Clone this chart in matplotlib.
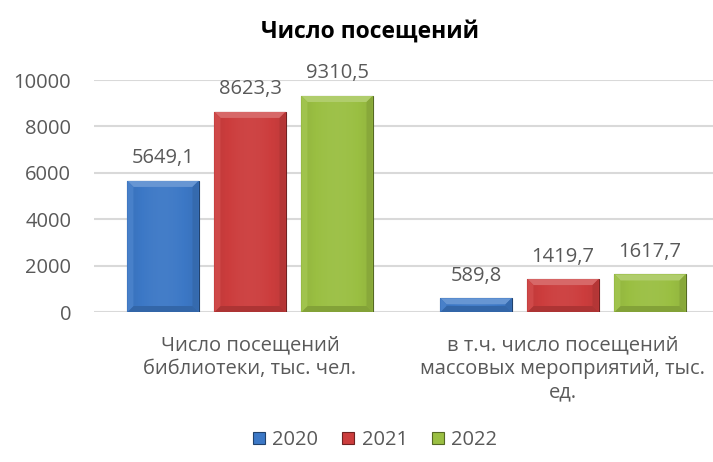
import matplotlib
matplotlib.use('Agg')
import matplotlib.pyplot as plt
import numpy as np
from matplotlib.colors import to_rgb
from matplotlib.patches import Polygon

categories = ['Число посещений\nбиблиотеки, тыс. чел.',
              'в т.ч. число посещений\nмассовых мероприятий, тыс.\nед.']
years = ['2020', '2021', '2022']
v2020 = [5649.1, 589.8]
v2021 = [8623.3, 1419.7]
v2022 = [9310.5, 1617.7]
colors = ['#3c78c6', '#cc3d3d', '#9abf42']

plt.rcParams['font.family'] = ['Open Sans', 'DejaVu Sans']
TXT = '#595959'
FS = 14.5


def shade(c, f):
    r = np.array(to_rgb(c))
    if f > 0:
        return tuple(r + (1 - r) * f)
    return tuple(r * (1 + f))


def fancy_bar(ax, rect, color):
    # soft gradient clipped to the bar + thin bevel
    x0, y0 = rect.get_x(), rect.get_y()
    w, h = rect.get_width(), rect.get_height()
    g = np.linspace(0, 1, 64)
    prof = 0.10 * np.sin(g * np.pi) - 0.06
    img = np.array([[shade(color, p) for p in prof]])
    im = ax.imshow(img, extent=(x0, x0 + w, y0, y0 + h), aspect='auto',
                   zorder=rect.get_zorder() + 0.1, interpolation='bilinear')
    im.set_clip_path(rect)
    inv = ax.transData.inverted()
    p0 = inv.transform((0, 0))
    p1 = inv.transform((6, 6))
    bx = p1[0] - p0[0]
    by = min(p1[1] - p0[1], h / 2)
    top = y0 + h
    z = rect.get_zorder() + 0.2
    ax.add_patch(Polygon([(x0, top), (x0 + w, top), (x0 + w - bx, top - by), (x0 + bx, top - by)],
                         closed=True, color=shade(color, 0.22), lw=0, zorder=z))
    ax.add_patch(Polygon([(x0, y0), (x0 + w, y0), (x0 + w - bx, y0 + by), (x0 + bx, y0 + by)],
                         closed=True, color=shade(color, -0.15), lw=0, zorder=z))
    ax.add_patch(Polygon([(x0 + w, y0), (x0 + w, top), (x0 + w - bx, top - by), (x0 + w - bx, y0 + by)],
                         closed=True, color=shade(color, -0.12), lw=0, zorder=z))
    ax.add_patch(Polygon([(x0, y0), (x0, top), (x0 + bx, top - by), (x0 + bx, y0 + by)],
                         closed=True, color=shade(color, 0.06), lw=0, zorder=z))
    rect.set_edgecolor(shade(color, -0.45))
    rect.set_linewidth(0.8)


fig = plt.figure(figsize=(7.13, 4.62), dpi=100)
ax = fig.add_axes([93.5 / 713, 1 - 312 / 462, 626 / 713, 232 / 462])
ax.set_xlim(-0.5, 1.5)
ax.set_ylim(0, 10000)

x = np.arange(len(categories))
step = 0.278
width = 0.227
series = [v2020, v2021, v2022]
fig.canvas.draw()
for i, (vals, col, yr) in enumerate(zip(series, colors, years)):
    bars = ax.bar(x + (i - 1) * step, vals, width, color=col, label=yr, zorder=3)
    for b, v in zip(bars, vals):
        fancy_bar(ax, b, col)
        ax.annotate(f'{v:.1f}'.replace('.', ','), (b.get_x() + b.get_width() / 2, v),
                    xytext=(0, 9), textcoords='offset points', ha='center', va='bottom',
                    fontsize=FS, color=TXT)

ax.set_yticks(np.arange(0, 10001, 2000))
ax.yaxis.grid(True, color='#d9d9d9', lw=1.5, zorder=0)
ax.set_axisbelow(True)
for s in ax.spines.values():
    s.set_visible(False)
ax.tick_params(axis='both', length=0, labelsize=FS, labelcolor=TXT)
ax.tick_params(axis='y', pad=16)
ax.set_xticks(x)
ax.set_xticklabels(categories, linespacing=1.22, va='top')
ax.tick_params(axis='x', pad=17)

fig.text(370 / 713, 1 - 32 / 462, 'Число посещений', ha='center', va='center',
         fontsize=16.5, fontweight='bold', color='black')

fig.legend(loc='center', bbox_to_anchor=(375 / 713, 1 - 440 / 462), ncol=3, frameon=False,
           fontsize=FS, labelcolor=TXT, handlelength=0.6, handleheight=0.6,
           handletextpad=0.35, columnspacing=1.2)

fig.savefig('out.png', dpi=100)
